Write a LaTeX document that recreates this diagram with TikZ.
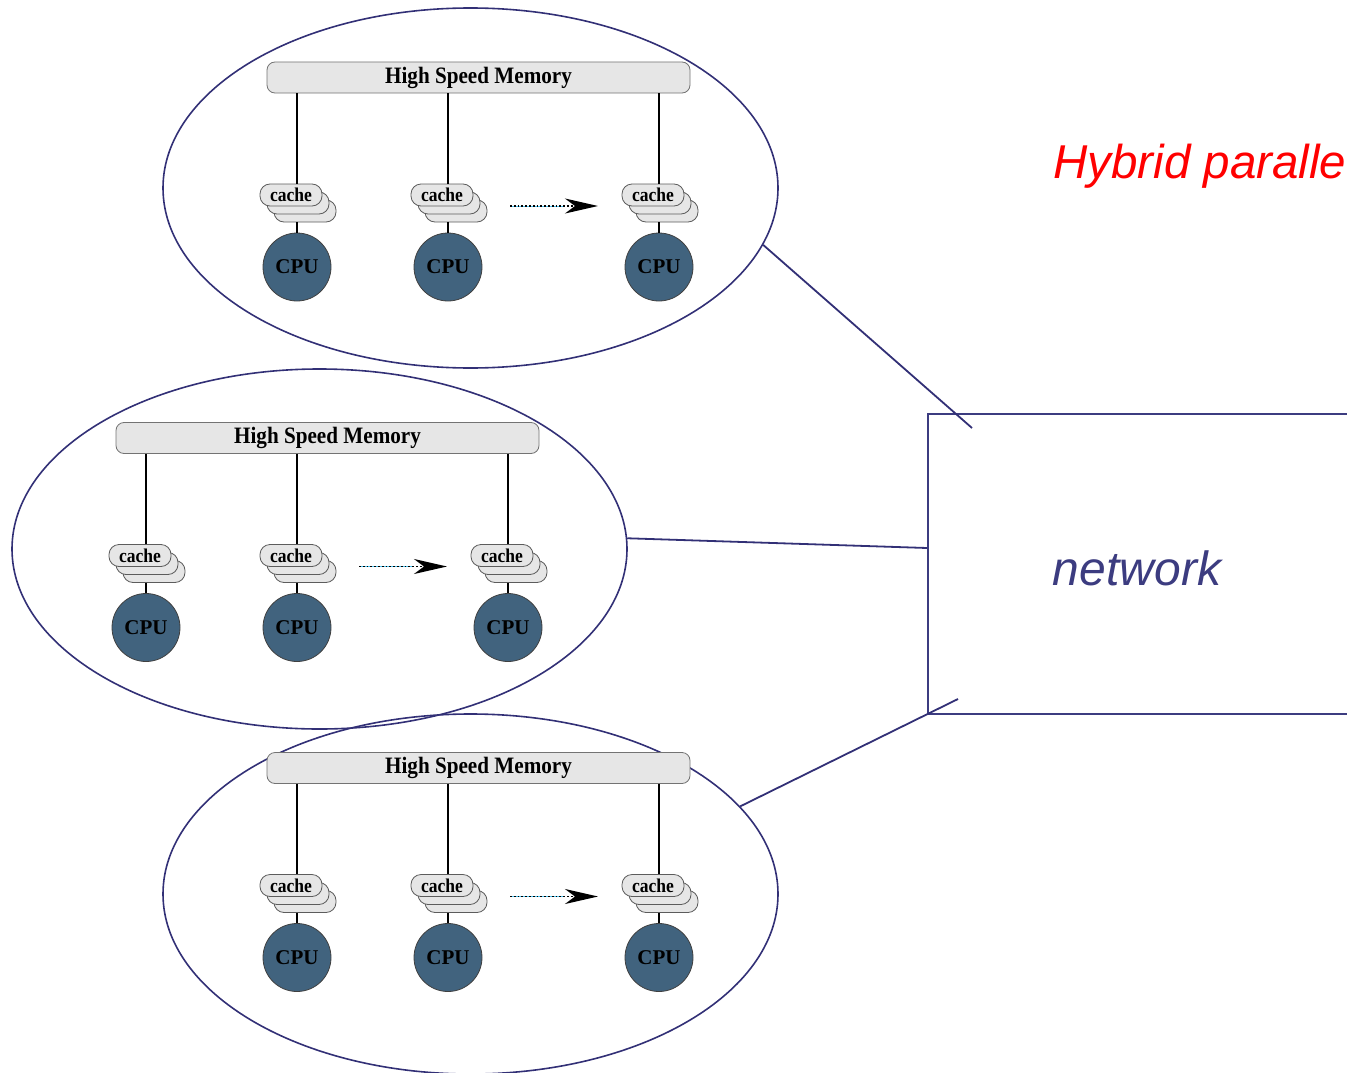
\documentclass[tikz,border=0pt]{standalone}
\usepackage{fontspec}
\setmainfont{Liberation Serif}
\newfontfamily\arialfont{Liberation Sans}
\usetikzlibrary{shapes.geometric,arrows.meta}

\definecolor{ringblue}{RGB}{50,48,118}
\definecolor{netblue}{RGB}{60,60,128}
\definecolor{cpufill}{RGB}{65,99,126}
\definecolor{barfill}{RGB}{230,230,230}
\definecolor{barline}{RGB}{115,115,115}

\tikzset{
  cluster/.style={ellipse, draw=ringblue, line width=1.6pt, minimum width=615pt,
    minimum height=360pt, inner sep=0pt},
  membar/.style={draw=barline, fill=barfill, rounded corners=8pt, line width=0.8pt,
    minimum width=423pt, minimum height=31pt, inner sep=0pt,
    font=\bfseries\fontsize{23.5}{26}\selectfont},
  cachebox/.style={draw=barline!80!black, fill=barfill, rounded corners=10pt, line width=0.8pt,
    minimum width=62pt, minimum height=22pt, inner sep=0pt,
    font=\bfseries\fontsize{19.5}{21}\selectfont},
  cpu/.style={circle, draw=black!75, fill=cpufill, line width=0.8pt, minimum size=68pt,
    inner sep=0pt, font=\bfseries\fontsize{21}{24}\selectfont},
  wire/.style={black, line width=1.2pt},
  flow/.style={black, dotted, line width=1.8pt,
    -{Stealth[length=33pt, width=15pt, inset=10pt]}},
  flowglow/.style={cyan!70, line width=0.8pt},
  link/.style={draw=ringblue, line width=1.8pt},
}

% narrow the bold serif labels a little
\newcommand\narrow[2]{\scalebox{#1}[1]{#2}}

% One shared-memory node: memory bar, three CPUs with cache stacks, ring round it.
% #1 name, #2/#3 centre of the memory bar, #4 vertical offset of the ring centre
\newcommand\smpcluster[4]{%
  \begin{scope}[shift={(#2,#3)}]
    \node[cluster] (#1) at (-8,#4) {};
    \node[membar] (#1mem) at (0,0) {\raisebox{-2pt}{\narrow{0.9}{High Speed Memory}}};
    \foreach \i/\dx in {1/-181.5,2/-30.5,3/180.5} {
      \node[cpu] (#1cpu\i) at (\dx,189.5) {CPU};
      \node[cachebox] (#1bk\i) at (\dx+8,133.5) {};
      \node[cachebox] (#1md\i) at (\dx+1,125.5) {};
      \node[cachebox] (#1cache\i) at (\dx-6,117.5) {\narrow{0.9}{cache}};
      \draw[wire] (#1cpu\i |- #1mem.south) -- (#1cpu\i |- #1cache\i.north);
      \draw[wire] (#1cpu\i |- #1bk\i.south) -- (#1cpu\i.north);
    }
    \coordinate (#1fa) at (31.5,128.5);
    \coordinate (#1fb) at (119.5,128.5);
    \coordinate (#1fm) at (86.5,128.5);
    \draw[flowglow] (#1fa) -- (#1fm);
    \draw[flow] (#1fa) -- (#1fb);
  \end{scope}}

\begin{document}
\begin{tikzpicture}[x=1pt,y=-1pt]
  \useasboundingbox (0,0) rectangle (1347,1073);

  \smpcluster{ca}{478.5}{77.5}{110.5}
  \smpcluster{cb}{327.5}{438}{111}
  \smpcluster{cc}{478.5}{768}{126}

  % interconnect
  \node[draw=netblue, line width=2pt, minimum width=422pt, minimum height=300pt,
        inner sep=0pt] (net) at (1139,564) {};
  \node[text=netblue, font=\arialfont\itshape\fontsize{48}{54}\selectfont]
        (netlabel) at (1137,568) {network};

  \coordinate (na) at (972,428);
  \coordinate (nc) at (958,699);
  \draw[link] (ca.-11.7) -- (na);
  \draw[link] (cb.2.8) -- ([yshift=16pt]net.west);
  \draw[link] (cc.18.8) -- (nc);

  \node[anchor=base west, text=red, inner sep=0pt,
        font=\arialfont\itshape\fontsize{47.5}{54}\selectfont]
        (title) at (1053,178) {Hybrid paralle};
\end{tikzpicture}
\end{document}
